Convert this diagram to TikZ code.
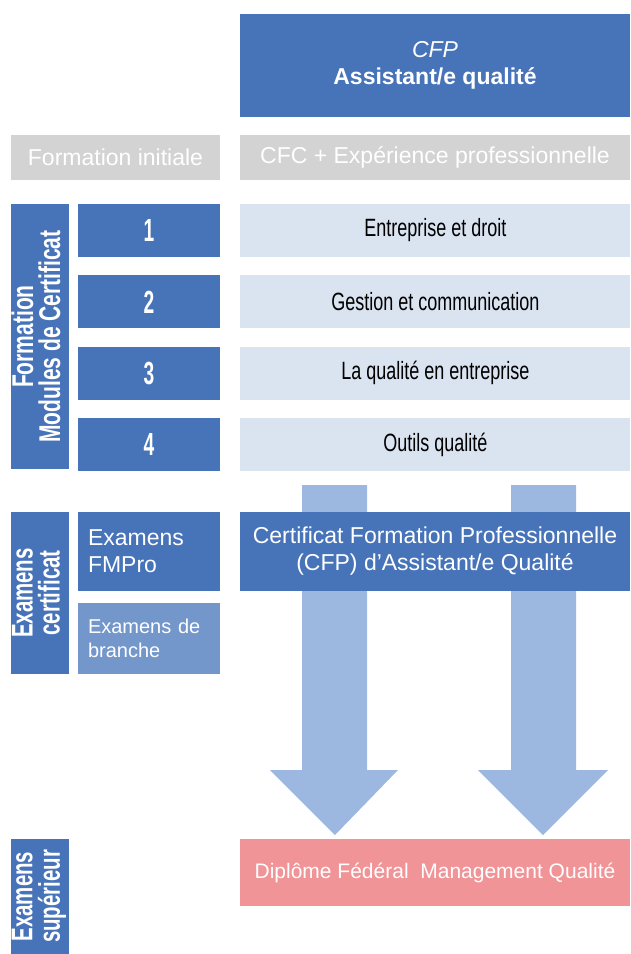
\documentclass[tikz,border=0pt]{standalone}
\usepackage{fontspec}
\setmainfont{Liberation Sans}
\usetikzlibrary{positioning}

\definecolor{bleu}{HTML}{4773B9}
\definecolor{clair}{HTML}{DAE3F0}
\definecolor{gris}{HTML}{D3D3D3}
\definecolor{bleumoyen}{HTML}{7396CB}
\definecolor{fleche}{HTML}{9DB8E0}
\definecolor{rose}{HTML}{F09497}

\newcommand{\etroit}[2][0.68]{\scalebox{#1}[1]{#2}}

\begin{document}
\begin{tikzpicture}[x=1pt,y=-1pt,node distance=18pt,
  boite/.style={rectangle,fill=bleu,text=white,inner sep=0pt,
    font=\fontsize{23}{27}\selectfont,align=center},
  large/.style={minimum width=390pt},
  cote/.style={boite,rotate=90,minimum height=58pt,font=\fontsize{30}{28}\selectfont\bfseries},
  numero/.style={boite,minimum width=142pt,minimum height=53pt,font=\fontsize{32}{32}\selectfont\bfseries},
  module/.style={boite,large,fill=clair,text=black,minimum height=53pt,font=\fontsize{25}{28}\selectfont},
  examen/.style={boite,text width=122pt,inner xsep=10pt,align=left}]

\useasboundingbox (0,0) rectangle (630,954);

% grandes fleches
\fill[fleche] (302,485) -- (367,485) -- (367,770) -- (398,770) -- (335,835)
  -- (270,770) -- (302,770) -- cycle;
\fill[fleche] (511,485) -- (576,485) -- (576,770) -- (608,770) -- (543,835)
  -- (478,770) -- (511,770) -- cycle;

\node[boite,large,minimum height=103pt] (titre) at (435,65.5)
  {{\itshape CFP}\\{\bfseries Assistant/e qualité}};

\node[boite,fill=gris,minimum width=209pt,minimum height=45pt] (initiale) at (115.5,157.5)
  {Formation initiale};
\node[boite,large,fill=gris,minimum height=45pt] (cfc) at (435,157.5)
  {CFC + Expérience professionnelle};

\node[cote,minimum width=265pt] (formation) at (40,336.5)
  {\etroit[0.7]{\begin{tabular}{@{}c@{}}Formation\\[-3pt]Modules de Certificat\end{tabular}}};

\node[numero] (N1) at (149,230.5) {\etroit[0.6]{1}};
\node[numero] (N2) [below=of N1] {\etroit[0.6]{2}};
\node[numero] (N3) [below=of N2] {\etroit[0.6]{3}};
\node[numero] (N4) [below=of N3] {\etroit[0.6]{4}};

\node[module] (M1) [right=20pt of N1] {\etroit[0.72]{Entreprise et droit}};
\node[module] (M2) [right=20pt of N2] {\etroit[0.72]{Gestion et communication}};
\node[module] (M3) [right=20pt of N3] {\etroit[0.72]{La qualité en entreprise}};
\node[module] (M4) [right=20pt of N4] {\etroit[0.72]{Outils qualité}};

\node[cote,minimum width=162pt] (examcert) at (40,593)
  {\etroit{\begin{tabular}{@{}c@{}}Examens\\[-3pt]certificat\end{tabular}}};

\node[examen,minimum height=79pt] (fmpro) at (149,551.5) {Examens\\FMPro};
\node[examen,fill=bleumoyen,minimum height=71pt,
  font=\fontsize{20}{24}\selectfont] (branche) at (149,638.5) {Examens de\\branche};

\node[boite,large,minimum height=79pt] (certif) at (435,551.5)
  {Certificat Formation Professionnelle\\(CFP) d’Assistant/e Qualité};

\node[boite,large,fill=rose,minimum height=67pt,
  font=\fontsize{21}{25}\selectfont] (diplome) at (435,872.5)
  {Diplôme Fédéral\ \ Management Qualité};

\node[cote,minimum width=115pt] (examsup) at (40,896.5)
  {\etroit{\begin{tabular}{@{}c@{}}Examens\\[-3pt]supérieur\end{tabular}}};

\end{tikzpicture}
\end{document}
